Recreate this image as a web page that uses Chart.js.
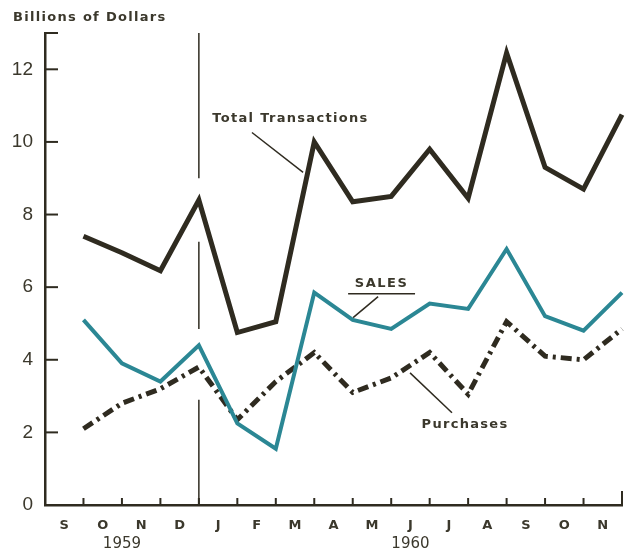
<!DOCTYPE html>
<html>
<head>
<meta charset="utf-8">
<script src="https://cdn.jsdelivr.net/npm/chart.js@4/dist/chart.umd.min.js"></script>
<style>
  html, body { margin: 0; padding: 0; background: #ffffff; }
  #wrap { width: 627px; height: 551px; }
</style>
</head>
<body>
<div id="wrap"><canvas id="chart" width="627" height="551"></canvas></div>
<script>
// month labels (each month spans one unit; values are at month end)
const months = ['S', 'O', 'N', 'D', 'J', 'F', 'M', 'A', 'M', 'J', 'J', 'A', 'S', 'O', 'N'];
const years = ['1959', '1960'];
const yearStart = [0, 4];
const yearEnd = [4, 15];
const yTicks = [0, 2, 4, 6, 8, 10, 12];

// billions of dollars, end of month
const totalTransactions = [7.4, 6.95, 6.45, 8.4, 4.75, 5.05, 10.0, 8.35, 8.5, 9.8, 8.45, 12.45, 9.3, 8.7, 10.75];
const sales = [5.1, 3.9, 3.4, 4.4, 2.25, 1.55, 5.85, 5.1, 4.85, 5.55, 5.4, 7.05, 5.2, 4.8, 5.85];
const purchases = [2.1, 2.8, 3.2, 3.8, 2.35, 3.4, 4.2, 3.1, 3.5, 4.2, 3.05, 5.05, 4.1, 4.0, 4.85];

const ink = '#2f2b20';
const teal = '#2b8794';
const textColor = '#3b382c';

const toPoints = arr => arr.map((v, i) => ({ x: i + 1, y: v }));

// labels, leader lines and the year divider, drawn in data units
const overlay = {
  id: 'overlay',
  beforeDatasetsDraw(chart) {
    const { ctx, scales: { x, y } } = chart;
    ctx.save();
    // year divider, broken where the lines cross it
    ctx.strokeStyle = ink;
    ctx.lineWidth = 1.5;
    const dx = x.getPixelForValue(4);
    const segs = [[13, 9.0], [7.25, 4.85], [2.9, 0]];
    segs.forEach(([a, b]) => {
      ctx.beginPath();
      ctx.moveTo(dx, y.getPixelForValue(a));
      ctx.lineTo(dx, y.getPixelForValue(b));
      ctx.stroke();
    });
    // inward tick marks
    ctx.lineWidth = 2;
    for (let i = 1; i < 15; i++) {
      const px = x.getPixelForValue(i);
      ctx.beginPath();
      ctx.moveTo(px, y.bottom);
      ctx.lineTo(px, y.bottom - 7);
      ctx.stroke();
    }
    const ex = x.getPixelForValue(15);
    ctx.beginPath();
    ctx.moveTo(ex, y.bottom);
    ctx.lineTo(ex, y.bottom - 14);
    ctx.stroke();
    [2, 4, 6, 8, 10, 12, 13].forEach(v => {
      const py = y.getPixelForValue(v);
      ctx.beginPath();
      ctx.moveTo(x.left, py);
      ctx.lineTo(x.left + 13, py);
      ctx.stroke();
    });
    // leader lines
    ctx.lineWidth = 1.5;
    const lead = (x1, y1, x2, y2) => {
      ctx.beginPath();
      ctx.moveTo(x.getPixelForValue(x1), y.getPixelForValue(y1));
      ctx.lineTo(x.getPixelForValue(x2), y.getPixelForValue(y2));
      ctx.stroke();
    };
    lead(5.38, 10.26, 6.71, 9.16);
    lead(8.66, 5.74, 8.01, 5.16);
    lead(9.49, 3.64, 10.58, 2.54);
    lead(7.88, 5.82, 9.62, 5.82);
    ctx.restore();
  },
  afterDraw(chart) {
    const { ctx, scales: { x, y } } = chart;
    ctx.save();
    ctx.fillStyle = textColor;
    ctx.textBaseline = 'middle';
    ctx.textAlign = 'center';
    ctx.font = 'bold 13px "DejaVu Sans"';
    ctx.letterSpacing = '1.3px';
    ctx.fillText('Total Transactions', x.getPixelForValue(6.38), y.getPixelForValue(10.65));
    ctx.fillText('Purchases', x.getPixelForValue(10.92), y.getPixelForValue(2.21));
    ctx.letterSpacing = '1.5px';
    ctx.fillText('SALES', x.getPixelForValue(8.75), y.getPixelForValue(6.1));
    // title
    ctx.textAlign = 'left';
    ctx.font = 'bold 13px "DejaVu Sans"';
    ctx.letterSpacing = '1.3px';
    ctx.fillText('Billions of Dollars', 13, 18);
    // years
    ctx.textAlign = 'center';
    ctx.font = '15px "DejaVu Sans"';
    ctx.letterSpacing = '0px';
    years.forEach((yr, i) => {
      ctx.fillText(yr, x.getPixelForValue((yearStart[i] + yearEnd[i]) / 2), y.bottom + 39);
    });
    ctx.restore();
  }
};

new Chart(document.getElementById('chart'), {
  type: 'line',
  data: {
    datasets: [{
      label: 'Total Transactions',
      data: toPoints(totalTransactions),
      borderColor: ink,
      borderWidth: 5,
      borderJoinStyle: 'miter',
      pointRadius: 0,
      tension: 0,
      clip: false
    }, {
      label: 'Sales',
      data: toPoints(sales),
      borderColor: teal,
      borderWidth: 4,
      borderJoinStyle: 'miter',
      pointRadius: 0,
      tension: 0,
      clip: false
    }, {
      label: 'Purchases',
      data: toPoints(purchases),
      borderColor: ink,
      borderWidth: 5,
      borderDash: [11, 5, 3, 5],
      borderJoinStyle: 'miter',
      pointRadius: 0,
      tension: 0,
      clip: false
    }]
  },
  options: {
    responsive: false,
    animation: false,
    devicePixelRatio: 1,
    layout: { padding: { top: 33, right: 5, left: 0, bottom: 0 } },
    plugins: { legend: { display: false }, tooltip: { enabled: false } },
    scales: {
      x: {
        type: 'linear',
        min: 0,
        max: 15,
        afterFit: s => { s.height = 46; },
        afterBuildTicks: s => { s.ticks = months.map((m, i) => ({ value: i + 0.5 })); },
        grid: { drawOnChartArea: false, drawTicks: false },
        border: { color: ink, width: 2.5 },
        ticks: {
          autoSkip: false,
          maxRotation: 0,
          padding: 13,
          color: textColor,
          font: { family: 'DejaVu Sans', size: 13, weight: 'bold' },
          callback: (v, i) => months[i]
        }
      },
      y: {
        min: 0,
        max: 13,
        afterFit: s => { s.width = 45; },
        afterBuildTicks: s => { s.ticks = yTicks.map(v => ({ value: v })); },
        grid: { drawOnChartArea: false, drawTicks: false },
        border: { color: ink, width: 2.5 },
        ticks: {
          padding: 12,
          color: textColor,
          font: { family: 'Liberation Sans', size: 19 }
        }
      }
    }
  },
  plugins: [overlay]
});
</script>
</body>
</html>
